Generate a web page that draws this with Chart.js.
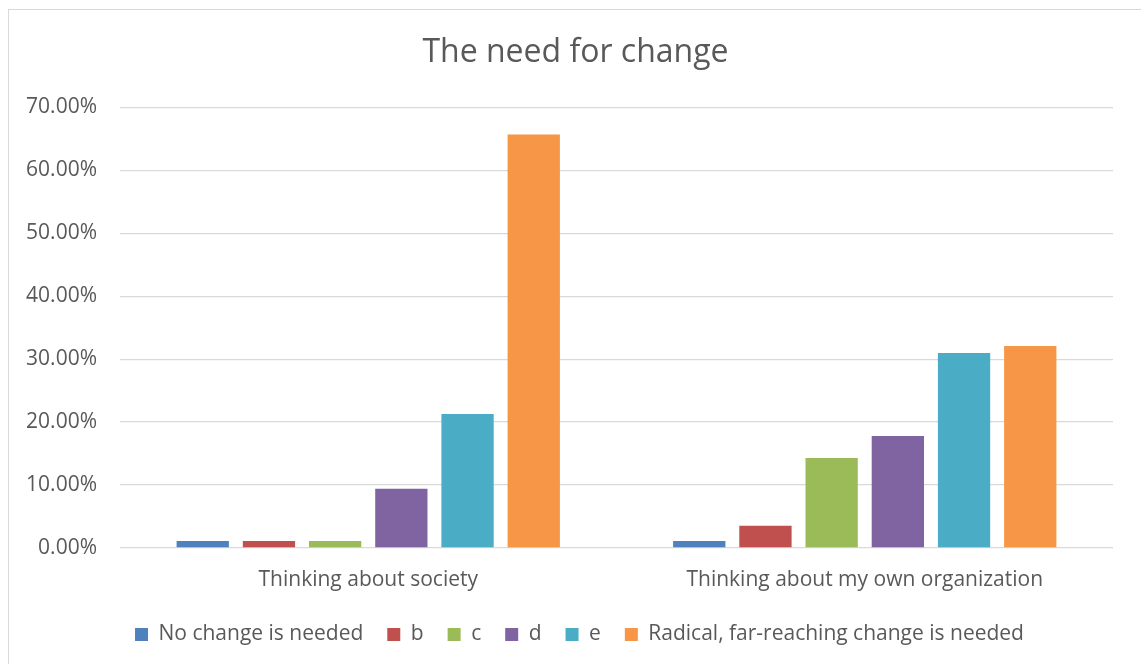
<!DOCTYPE html>
<html>
<head>
<meta charset="utf-8">
<script src="https://cdn.jsdelivr.net/npm/chart.js@4.4.0/dist/chart.umd.min.js"></script>
<style>
  html, body { margin: 0; padding: 0; background: #fff; overflow: hidden; }
  #frame { position: absolute; left: 8px; top: 9px; width: 1200px; height: 700px; border: 1px solid #d9d9d9; }
  #wrap { position: absolute; left: 0; top: 0; width: 1141px; height: 664px; }
</style>
</head>
<body>
<div id="frame"></div>
<div id="wrap"><canvas id="myChart"></canvas></div>
<script>
const categories = ['Thinking about society', 'Thinking about my own organization'];
const seriesNames = ['No change is needed', 'b', 'c', 'd', 'e', 'Radical, far-reaching change is needed'];
const noChange = [1.1, 1.1];
const seriesB = [1.1, 3.55];
const seriesC = [1.1, 14.3];
const seriesD = [9.4, 17.8];
const seriesE = [21.3, 31.0];
const radical = [65.7, 32.1];
const colors = ['#4f81bd', '#c0504d', '#9bbb59', '#8064a2', '#4bacc6', '#f79646'];

// title and legend sit centred on the whole frame, not on the plot box
const centerShift = {
  id: 'centerShift',
  afterLayout(chart) {
    if (chart.titleBlock) chart.titleBlock.left += 38;
    if (chart.legend) {
      chart.legend.left += 46;
      chart.legend.top += 2;
      chart.legend.bottom += 2;
    }
  }
};

document.addEventListener('DOMContentLoaded', function () {
  const ctx = document.getElementById('myChart').getContext('2d');
  const values = [noChange, seriesB, seriesC, seriesD, seriesE, radical];

  new Chart(ctx, {
    type: 'bar',
    data: {
      labels: categories,
      datasets: values.map((v, i) => ({
        label: seriesNames[i],
        data: v,
        backgroundColor: colors[i],
        borderWidth: 0,
        categoryPercentage: 0.8,
        barPercentage: 0.79
      }))
    },
    plugins: [centerShift],
    options: {
      responsive: true,
      maintainAspectRatio: false,
      animation: false,
      layout: {
        padding: { top: 34, left: 0, right: 28, bottom: 11 }
      },
      scales: {
        x: {
          grid: { display: false },
          border: { display: false },
          ticks: {
            color: '#595959',
            padding: 11,
            font: { family: 'Open Sans', size: 21 }
          },
          afterFit: function (scale) { scale.height = 50; }
        },
        y: {
          min: 0,
          max: 70,
          grid: { color: '#d9d9d9', lineWidth: 1.3, drawTicks: false },
          border: { display: false },
          ticks: {
            stepSize: 10,
            color: '#595959',
            padding: 23,
            font: { family: 'Open Sans', size: 21 },
            callback: v => v.toFixed(2) + '%'
          },
          afterFit: function (scale) { scale.width = 120; }
        }
      },
      plugins: {
        title: {
          display: true,
          text: 'The need for change',
          color: '#595959',
          font: { family: 'Open Sans', size: 32, weight: 'normal' },
          padding: { top: 0, bottom: 35 }
        },
        legend: {
          position: 'bottom',
          labels: {
            color: '#595959',
            boxWidth: 13,
            boxHeight: 13,
            padding: 24,
            font: { family: 'Open Sans', size: 21 }
          }
        },
        tooltip: { enabled: false }
      }
    }
  });
});
</script>
</body>
</html>
